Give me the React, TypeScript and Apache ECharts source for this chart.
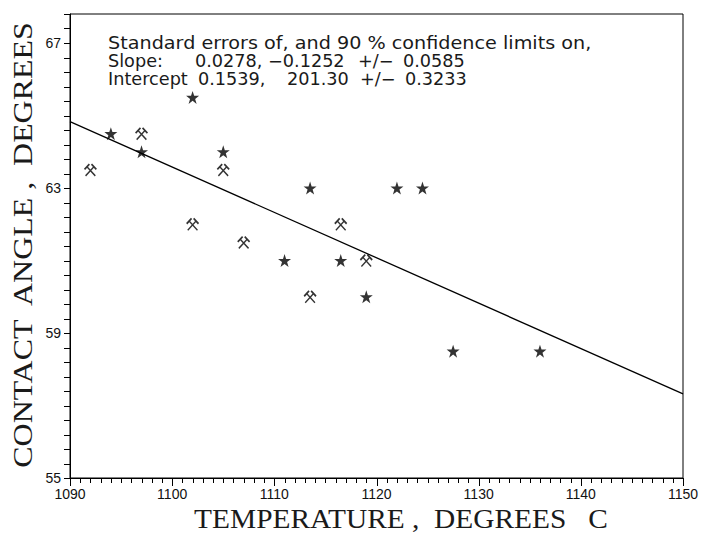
import React, { useEffect, useRef } from "react";
import * as echarts from "echarts";

const starPoints: [number, number][] = [
  [1094, 64.5],
  [1097, 64.0],
  [1102, 65.5],
  [1105, 64.0],
  [1113.5, 63.0],
  [1111, 61.0],
  [1116.5, 61.0],
  [1119, 60.0],
  [1122, 63.0],
  [1124.5, 63.0],
  [1127.5, 58.5],
  [1136, 58.5],
];

const hammerPoints: [number, number][] = [
  [1092, 63.5],
  [1097, 64.5],
  [1105, 63.5],
  [1102, 62.0],
  [1107, 61.5],
  [1116.5, 62.0],
  [1119, 61.0],
  [1113.5, 60.0],
];

const fitLine: [number, number][] = [
  [1090, 64.83],
  [1150, 57.32],
];

const xTickLabels = [1090, 1100, 1110, 1120, 1130, 1140, 1150];
const yTickLabels = [55, 59, 63, 67];

const X_MIN = 1090;
const X_MAX = 1150;
const Y_MIN = 55;
const Y_MAX = 67.8;

const STAR =
  "path://M10 0 L12.29 6.84 L19.51 6.91 L13.71 11.21 L15.88 18.09 L10 13.9 L4.12 18.09 L6.29 11.21 L0.49 6.91 L7.71 6.84 Z";
const HAMMERS =
  "path://M3.7 19.7 L15.7 7.7 L14.3 6.3 L2.3 18.3 Z " +
  "M17.7 18.3 L5.7 6.3 L4.3 7.7 L16.3 19.7 Z " +
  "M10.65 4.35 L17.65 11.35 L19.35 9.65 L12.35 2.65 Z " +
  "M7.65 2.65 L0.65 9.65 L2.35 11.35 L9.35 4.35 Z";

const SANS = "'Liberation Sans', Arial, sans-serif";
const ANN = "'DejaVu Sans', sans-serif";
const SERIF = "'Liberation Serif', 'DejaVu Serif', serif";

export default function App() {
  const ref = useRef<HTMLDivElement>(null);
  useEffect(() => {
    if (!ref.current) return;
    const chart = echarts.init(ref.current, null, { renderer: "svg" });
    const annot = { fill: "#1a1a1a", font: `17px ${ANN}`, verticalAlign: "middle" as const };
    const title = { fill: "#1a1a1a", font: `28px ${SERIF}`, align: "center" as const, verticalAlign: "middle" as const };
    const s1 = 1.13;
    const s2 = 1.04;
    const line = { show: true, lineStyle: { color: "#000", width: 1 } };

    const texts: any[] = [
      { type: "text", x: 108, y: 43, scaleX: s1, style: { ...annot, text: "Standard errors of, and 90 % confidence limits on," } },
      { type: "text", x: 108, y: 61, scaleX: s2, style: { ...annot, text: "Slope:" } },
      { type: "text", x: 195, y: 61, scaleX: s2, style: { ...annot, text: "0.0278," } },
      { type: "text", x: 268, y: 61, scaleX: s2, style: { ...annot, text: "\u22120.1252" } },
      { type: "text", x: 358, y: 61, scaleX: s2, style: { ...annot, text: "+/\u2212" } },
      { type: "text", x: 403, y: 61, scaleX: s2, style: { ...annot, text: "0.0585" } },
      { type: "text", x: 108, y: 79, scaleX: s2, style: { ...annot, text: "Intercept" } },
      { type: "text", x: 198, y: 79, scaleX: s2, style: { ...annot, text: "0.1539," } },
      { type: "text", x: 287, y: 79, scaleX: s2, style: { ...annot, text: "201.30" } },
      { type: "text", x: 360, y: 79, scaleX: s2, style: { ...annot, text: "+/\u2212" } },
      { type: "text", x: 405, y: 79, scaleX: s2, style: { ...annot, text: "0.3233" } },
      { type: "text", x: 401, y: 518, scaleX: 1.05, style: { ...title, text: "TEMPERATURE ,  DEGREES   C" } },
      {
        type: "text",
        x: 22,
        y: 245,
        rotation: Math.PI / 2,
        scaleX: 1.14,
        style: { ...title, text: "CONTACT  ANGLE ,  DEGREES" },
      },
    ];

    chart.setOption({
      animation: false,
      backgroundColor: "#fff",
      grid: {
        left: 70,
        right: 20,
        top: 14,
        bottom: 61,
        show: true,
        borderColor: "#000",
        borderWidth: 1,
      },
      xAxis: {
        type: "value",
        min: X_MIN,
        max: X_MAX,
        interval: 10,
        axisLine: line,
        axisTick: { show: false },
        splitLine: { show: false },
        axisLabel: {
          customValues: xTickLabels,
          formatter: (v: number) => String(v),
          margin: 9,
          fontFamily: SANS,
          fontSize: 14,
          color: "#111",
        },
      },
      yAxis: {
        type: "value",
        min: Y_MIN,
        max: Y_MAX,
        axisLine: line,
        axisTick: { show: false },
        splitLine: { show: false },
        axisLabel: {
          customValues: yTickLabels,
          margin: 9,
          padding: [0, 0, 8, 0],
          fontFamily: SANS,
          fontSize: 14,
          color: "#111",
        },
      },
      series: [
        {
          type: "line",
          data: fitLine,
          symbol: "none",
          lineStyle: { color: "#000", width: 1.3 },
          z: 1,
        },
        {
          type: "scatter",
          data: starPoints,
          symbol: STAR,
          symbolSize: 13,
          itemStyle: { color: "#000" },
          z: 3,
        },
        {
          type: "scatter",
          data: hammerPoints,
          symbol: HAMMERS,
          symbolSize: 13,
          itemStyle: { color: "#000" },
          z: 3,
        },
      ],
      graphic: texts,
    });

    // Tick marks placed through the chart's own scales.
    const ticks: any[] = [];
    for (let v = X_MIN; v <= X_MAX; v++) {
      const p = chart.convertToPixel({ gridIndex: 0 }, [v, Y_MIN]) as number[];
      const len = v % 10 === 0 ? 8 : 5;
      const x = Math.round(p[0]) + 0.5;
      ticks.push({
        type: "line",
        shape: { x1: x, y1: p[1], x2: x, y2: p[1] + len },
        style: { stroke: "#000", lineWidth: 1 },
        z: 10,
      });
    }
    for (let i = 0; i <= 32; i++) {
      const val = Math.round((Y_MIN + i * 0.4) * 10) / 10;
      const p = chart.convertToPixel({ gridIndex: 0 }, [X_MIN, val]) as number[];
      const y = Math.round(p[1]) + 0.5;
      ticks.push({
        type: "line",
        shape: { x1: p[0] - 6, y1: y, x2: p[0], y2: y },
        style: { stroke: "#000", lineWidth: 1 },
        z: 10,
      });
    }
    chart.setOption({ graphic: [...texts, ...ticks] });

    return () => chart.dispose();
  }, []);
  return <div ref={ref} style={{ width: 703, height: 539, position: "absolute", left: 0, top: 0 }} />;
}
